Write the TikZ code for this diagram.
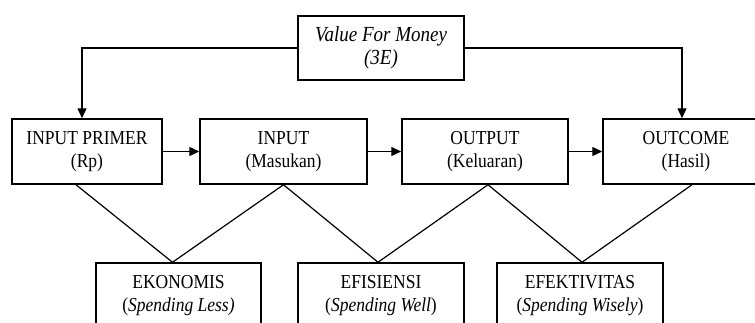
\documentclass[tikz,border=0pt]{standalone}
\usepackage{fontspec}
\setmainfont{Liberation Serif}
\usetikzlibrary{arrows.meta}
\newcommand\boxtext[2]{\scalebox{1}[1.13]{\begin{tabular}{@{}c@{}}#1\\#2\end{tabular}}}
\tikzset{
  box/.style={draw,line width=1.5pt,minimum width=166pt,minimum height=64pt,
    inner sep=0pt,align=center,font=\fontsize{17.5}{20.5}\selectfont},
  link/.style={line width=1.2pt},
  flow/.style={line width=1.4pt,-{Triangle[length=10pt,width=9pt]}}
}
\begin{document}
\begin{tikzpicture}[x=1pt,y=-1pt]
\useasboundingbox (0,0) rectangle (755,322);
\clip (0,0) rectangle (755,322);
% top
\node[box,font=\fontsize{19}{20.5}\selectfont] (vfm) at (381,48) {\boxtext{\textit{Value For Money}}{\textit{(3E)}}};
% middle row
\node[box,minimum width=150pt,minimum height=65pt] (ip) at (87,151.5) {\boxtext{INPUT PRIMER}{(Rp)}};
\node[box,minimum width=167pt,minimum height=65pt] (in) at (283.5,151.5) {\boxtext{INPUT}{(Masukan)}};
\node[box,minimum height=65pt] (out) at (485,151.5) {\boxtext{OUTPUT}{(Keluaran)}};
\node[box,minimum height=65pt] (oc) at (686,151.5) {\boxtext{OUTCOME}{(Hasil)}};
% bottom row
\node[box,minimum width=165pt] (eko) at (178.5,295) {\boxtext{EKONOMIS}{(\textit{Spending Less)}}};
\node[box] (efi) at (381,295) {\boxtext{EFISIENSI}{(\textit{Spending Well})}};
\node[box] (efe) at (580,295) {\boxtext{EFEKTIVITAS}{(\textit{Spending Wisely})}};
% arrows
\draw[flow] (vfm.west) -| ([xshift=-5pt]ip.north);
\draw[flow] (vfm.east) -| ([xshift=-4pt]oc.north);
\draw[flow] (ip) -- (in);
\draw[flow] (in) -- (out);
\draw[flow] (out) -- (oc);
% links
\draw[link] ([xshift=-11pt]ip.south) -- ([xshift=-6pt]eko.north);
\draw[link] (in.south) -- ([xshift=-6pt]eko.north);
\draw[link] (in.south) -- ([xshift=-3pt]efi.north);
\draw[link] ([xshift=3pt]out.south) -- ([xshift=-3pt]efi.north);
\draw[link] ([xshift=3pt]out.south) -- ([xshift=2pt]efe.north);
\draw[link] ([xshift=6pt]oc.south) -- ([xshift=2pt]efe.north);
\end{tikzpicture}
\end{document}
